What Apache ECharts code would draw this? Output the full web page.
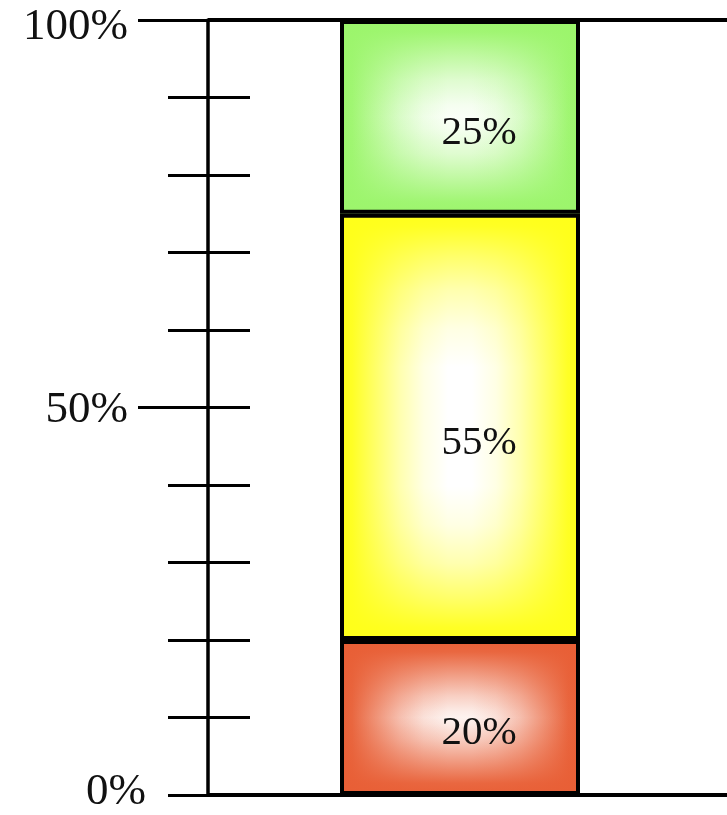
<!DOCTYPE html>
<html>
<head>
<meta charset="utf-8">
<script src="https://cdn.jsdelivr.net/npm/echarts@6/dist/echarts.min.js"></script>
<style>
  html, body { margin: 0; padding: 0; background: #fff; }
  #chart { width: 727px; height: 815px; }
</style>
</head>
<body>
<div id="chart"></div>
<script>
// data
const categories = [""];
const segNames = ["20%", "55%", "25%"];
const segValues = [20, 55, 25];
const segColors = ["#e85f36", "#ffff1a", "#9cf56c"];
const axisLabels = [0, 50, 100];
const longTicks = [50, 100];
const serif = "Liberation Serif, Times New Roman, serif";

const myChart = echarts.init(document.getElementById("chart"));

const withAlpha = (hex, a) => {
  const n = parseInt(hex.slice(1), 16);
  return `rgba(${(n >> 16) & 255},${(n >> 8) & 255},${n & 255},${a})`;
};

// symmetric fade: [offset from edge, colour weight]
const hFade = [[0, 1], [0.05, 0.95], [0.15, 0.65], [0.25, 0.35], [0.35, 0.12], [0.45, 0]];
const vFade = [
  [[0, 1], [0.077, 0.95], [0.23, 0.6], [0.36, 0.3], [0.46, 0.12], [0.5, 0.08]],
  [[0, 1], [0.03, 0.95], [0.1, 0.65], [0.18, 0.35], [0.27, 0.12], [0.36, 0]],
  [[0, 1], [0.062, 0.95], [0.19, 0.62], [0.31, 0.32], [0.44, 0.1], [0.5, 0.05]],
];

const mirror = (fade, toColor) => {
  const left = fade.map(([o, w]) => ({ offset: o, color: toColor(w) }));
  const right = fade
    .slice()
    .reverse()
    .map(([o, w]) => ({ offset: 1 - o, color: toColor(w) }));
  return left.concat(right);
};

const mixWhite = (hex, w) => {
  const n = parseInt(hex.slice(1), 16);
  const ch = [(n >> 16) & 255, (n >> 8) & 255, n & 255].map((c) =>
    Math.round(255 + (c - 255) * w)
  );
  return `rgb(${ch.join(",")})`;
};

const baseSeries = segValues.map((v, i) => ({
  name: segNames[i] + "-base",
  type: "bar",
  stack: "base",
  xAxisIndex: 1,
  yAxisIndex: 4,
  barWidth: 240,
  barGap: "-100%",
  silent: true,
  itemStyle: {
    color: new echarts.graphic.LinearGradient(
      0, 0, 1, 0,
      mirror(hFade, (w) => mixWhite(segColors[i], w))
    ),
  },
  data: [v],
}));

const topSeries = segValues.map((v, i) => ({
  name: segNames[i],
  type: "bar",
  stack: "top",
  xAxisIndex: 1,
  yAxisIndex: 4,
  barWidth: 240,
  barGap: "-100%",
  itemStyle: {
    color: new echarts.graphic.LinearGradient(
      0, 0, 0, 1,
      mirror(vFade[i], (w) => withAlpha(segColors[i], w))
    ),
    borderColor: "#000",
    borderWidth: 4,
  },
  label: {
    show: true,
    position: "inside",
    offset: [19, 16],
    formatter: () => segNames[i],
    color: "#111",
    fontFamily: serif,
    fontSize: 41,
  },
  data: [v],
}));

myChart.setOption({
  backgroundColor: "#fff",
  animation: false,
  grid: [
    // right edge pushed just past the canvas so the frame lines run off the page
    { left: 208, right: -6, top: 20, bottom: 20, show: false },
    { left: 208, right: 15, top: 20, bottom: 20, show: false },
  ],
  xAxis: [
    {
      type: "category",
      gridIndex: 0,
      data: categories,
      show: false,
      splitLine: { show: false },
    },
    {
      type: "category",
      gridIndex: 1,
      data: categories,
      show: false,
      splitLine: { show: false },
    },
  ],
  yAxis: [
    {
      type: "value",
      gridIndex: 0,
      position: "left",
      min: 0,
      max: 100,
      interval: 10,
      axisLine: { show: true, lineStyle: { color: "#000", width: 3.5 } },
      axisTick: { show: true, length: 40, lineStyle: { color: "#000", width: 3 } },
      splitLine: { show: false },
      axisLabel: {
        customValues: axisLabels,
        margin: 62,
        formatter: (v) => (v === 0 ? "{z|0%}" : v === 100 ? "{t|100%}" : "{m|50%}"),
        rich: {
          z: { fontFamily: serif, fontSize: 45, color: "#111", padding: [0, 0, 6, 0] },
          m: { fontFamily: serif, fontSize: 45, color: "#111", padding: [6, 18, 0, 0] },
          t: { fontFamily: serif, fontSize: 45, color: "#111", padding: [14, 18, 0, 0] },
        },
      },
    },
    {
      type: "value",
      gridIndex: 0,
      position: "left",
      min: 0,
      max: 100,
      interval: 10,
      axisLine: { show: false },
      axisTick: { show: true, inside: true, length: 42, lineStyle: { color: "#000", width: 3 } },
      splitLine: { show: false },
      axisLabel: { show: false },
    },
    {
      type: "value",
      gridIndex: 0,
      position: "left",
      min: 0,
      max: 100,
      interval: 10,
      axisLine: { show: false },
      axisTick: { show: true, customValues: longTicks, length: 70, lineStyle: { color: "#000", width: 3 } },
      splitLine: { show: false },
      axisLabel: { show: false },
    },
    {
      // top and bottom frame lines
      type: "value",
      gridIndex: 0,
      position: "left",
      min: 0,
      max: 100,
      interval: 100,
      axisLine: { show: false },
      axisTick: { show: false },
      axisLabel: { show: false },
      splitLine: { show: true, lineStyle: { color: "#000", width: 4 } },
    },
    {
      type: "value",
      gridIndex: 1,
      min: 0,
      max: 100,
      show: false,
    },
  ],
  series: [...baseSeries, ...topSeries],
});
</script>
</body>
</html>
